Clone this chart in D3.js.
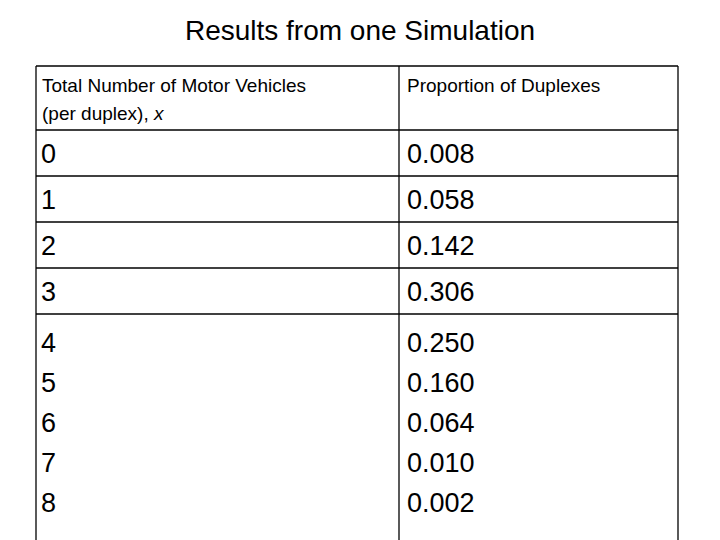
<!DOCTYPE html>
<html><head><meta charset="utf-8">
<script src="https://cdn.jsdelivr.net/npm/d3@7"></script>
<style>body{margin:0;background:#fff}</style>
</head><body>
<script>
const title = "Results from one Simulation";
const headers = [["Total Number of Motor Vehicles", "(per duplex), "], ["Proportion of Duplexes"]];
const xValues = ["0", "1", "2", "3", "4", "5", "6", "7", "8"];
const proportions = ["0.008", "0.058", "0.142", "0.306", "0.250", "0.160", "0.064", "0.010", "0.002"];

const svg = d3.select("body").append("svg").attr("width", 720).attr("height", 540);
const font = "Liberation Sans, Arial, sans-serif";

svg.append("text").attr("x", 360).attr("y", 40).attr("text-anchor", "middle")
  .attr("font-family", font).attr("font-size", 28).text(title);

const tLeft = 36, tMid = 399, tRight = 678, tTop = 66, headBottom = 130;
// first four rows boxed, rest in one tall cell
const boxed = d3.scaleLinear().domain([0, 4]).range([headBottom, 314]);
const loose = d3.scaleLinear().domain([4, 8]).range([342, 502]);
const rowY = i => i < 4 ? (boxed(i) + boxed(i + 1)) / 2 + 10 : loose(i) + 10;

const g = svg.append("g").attr("stroke", "#000").attr("stroke-width", 1.3);
[tTop, headBottom, boxed(1), boxed(2), boxed(3), boxed(4)].forEach(y =>
  g.append("line").attr("x1", tLeft).attr("x2", tRight).attr("y1", y).attr("y2", y));
[tLeft, tMid, tRight].forEach(x =>
  g.append("line").attr("x1", x).attr("x2", x).attr("y1", tTop).attr("y2", 540));

const h1 = svg.append("text").attr("font-family", font).attr("font-size", 19);
h1.append("tspan").attr("x", tLeft + 6).attr("y", 92).text(headers[0][0]);
h1.append("tspan").attr("x", tLeft + 6).attr("y", 120).text(headers[0][1])
  .append("tspan").attr("font-style", "italic").text("x");
svg.append("text").attr("font-family", font).attr("font-size", 19)
  .attr("x", tMid + 8).attr("y", 92).text(headers[1][0]);

svg.selectAll(".xv").data(xValues).join("text").attr("class", "xv")
  .attr("font-family", font).attr("font-size", 27)
  .attr("x", tLeft + 5).attr("y", (d, i) => rowY(i)).text(d => d);
svg.selectAll(".pv").data(proportions).join("text").attr("class", "pv")
  .attr("font-family", font).attr("font-size", 27)
  .attr("x", tMid + 8).attr("y", (d, i) => rowY(i)).text(d => d);
</script>
</body></html>
